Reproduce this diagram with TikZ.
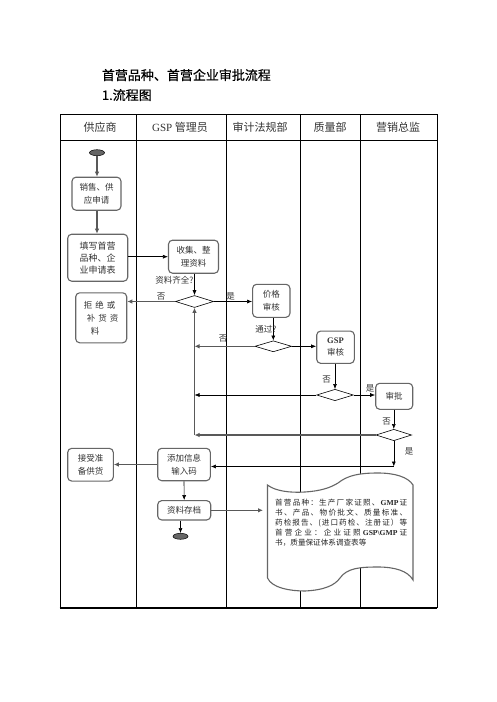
\documentclass[tikz,border=0pt]{standalone}
\usepackage{fontspec}
\setmainfont{Liberation Serif}
\newfontfamily\cjk{Noto Sans CJK SC}
\newfontfamily\cjktitle[FakeBold=0.5]{Noto Sans CJK SC}
\usetikzlibrary{shapes.geometric,arrows.meta}
\setlength{\parindent}{0pt}
\makeatletter
\newcommand{\spreadline}[1]{\makebox[132pt][s]{\@tfor\sp@c:=#1\do{\sp@c\hfil}\unskip}}
\makeatother
\begin{document}
\begin{tikzpicture}[x=1pt,y=-1pt,
  box/.style={draw=black!60, line width=1.1pt, rounded corners=4pt, fill=white, inner sep=0pt, align=center, text=black!80, font=\cjk\fontsize{8.5}{12.5}\selectfont},
  dia/.style={draw=black, line width=0.6pt, shape=diamond, inner sep=0pt, fill=white},
  term/.style={draw=black, line width=0.5pt, fill=black!60, ellipse, inner sep=0pt, minimum width=15pt, minimum height=6pt},
  barr/.style={draw=black, line width=0.6pt, -{Latex[length=5pt,width=4pt]}},
  garr/.style={draw=black!65, line width=1.3pt, -{Latex[length=5pt,width=4.5pt]}},
  lbl/.style={font=\cjk\fontsize{8.5}{10}\selectfont, text=black!80, inner sep=0pt},
  hdr/.style={font=\cjk\fontsize{11}{13}\selectfont, text=black!80, inner sep=0pt},
  ttl/.style={font=\cjktitle\fontsize{13}{15}\selectfont, text=black, inner sep=0pt, anchor=west},
  tbl/.style={draw=black, line width=0.8pt}
]
\useasboundingbox (0,0) rectangle (496,702);
\fill[white] (0,0) rectangle (496,702);

% title
\node[ttl] (title) at (101.7,75) {首营品种、首营企业审批流程};
\node[ttl] (sub) at (101.7,95) {1.流程图};

% table
\draw[tbl] (60,608) -- (60,114) -- (437,114) -- (437,608);
\draw[tbl] (60,140) -- (437,140);
\foreach \xx in {136,226,300,360} \draw[tbl] (\xx,114) -- (\xx,608);
\draw[line width=1.8pt] (59.6,608) -- (437.4,608);

\node[hdr] (h1) at (100,127) {供应商};
\node[hdr] (h2) at (180,127) {{\rmfamily GSP} 管理员};
\node[hdr] (h3) at (260,127) {审计法规部};
\node[hdr] (h4) at (330,127) {质量部};
\node[hdr] (h5) at (398,127) {营销总监};

% document shape
\draw[draw=black!60, line width=1.1pt, fill=white] (267.5,485) .. controls (275,491) and (290,493) .. (305,492) .. controls (320,491) and (330,488) .. (338,483) .. controls (348,475) and (360,473) .. (378,473) .. controls (395,473) and (408,477) .. (413,485) -- (413,580) .. controls (408,571) and (395,567) .. (378,567) .. controls (360,567) and (347,568) .. (340,578) .. controls (335,585) and (325,590) .. (305,591) .. controls (290,591) and (272,588) .. (267.5,578) -- cycle;
\node[anchor=north west, align=left, inner sep=0pt, text=black!85, font=\cjk\fontsize{7.6}{10.2}\selectfont] (doctxt) at (275,498.5) {\spreadline{首营品种：生产厂家证照、{{\rmfamily\bfseries GMP}}证}\\\spreadline{书、产品、物价批文、质量标准、}\\\spreadline{药检报告、(进口药检、注册证）等}\\\spreadline{首营企业：企业证照{{\rmfamily\bfseries GSP\textbackslash GMP}}证}\\书，质量保证体系调查表等};
\coordinate (docL) at (263,510.3);

% nodes
\node[term] (start) at (97,152.7) {};
\node[box, minimum width=49pt, minimum height=33pt] (sale) at (96.5,193.7) {销售、供\\应申请};
\node[box, minimum width=60pt, minimum height=47pt, font=\cjk\fontsize{9}{12}\selectfont] (fill) at (97.7,257.7) {填写首营\\品种、企\\业申请表};
\node[box, minimum width=50pt, minimum height=33pt] (collect) at (193.5,256.7) {收集、整\\理资料};
\node[dia, minimum width=38pt, minimum height=12pt] (d1) at (194.5,301.5) {};
\node[box, minimum width=51pt, minimum height=50pt, align=left, font=\cjk\fontsize{8.5}{13}\selectfont] (reject) at (101.2,317.8) {拒\hspace{3pt}绝\hspace{3pt}或\\\hspace*{3pt}补\hspace{3pt}货\hspace{3pt}资\\\hspace*{7pt}料};
\node[box, minimum width=37.3pt, minimum height=33pt, font=\cjk\fontsize{8.5}{13.3}\selectfont] (price) at (271.3,300.8) {价格\\审核};
\node[dia, minimum width=36.7pt, minimum height=11pt] (d2) at (273.3,346.3) {};
\node[box, minimum width=37.6pt, minimum height=32.3pt] (gsp) at (335.5,347.2) {{\rmfamily\bfseries GSP}\\审核};
\node[dia, minimum width=36.7pt, minimum height=11.4pt] (d3) at (335,395) {};
\node[box, minimum width=37pt, minimum height=26pt] (appr) at (394.2,396.3) {审批};
\node[dia, minimum width=35.7pt, minimum height=11.4pt] (d4) at (393.8,435) {};
\coordinate (c1) at (393.8,466.5);
\node[box, minimum width=45.6pt, minimum height=32.7pt] (accept) at (90.5,464.7) {接受准\\备供货};
\node[box, minimum width=52.6pt, minimum height=32.4pt] (add) at (184,464.5) {添加信息\\输入码};
\node[box, minimum width=53pt, minimum height=19.3pt] (archive) at (184.2,510.3) {资料存档};
\node[term] (end) at (180.5,536.3) {};

% connectors
\draw[garr] (start) -- (sale.north -| start);
\draw[garr] (sale.south -| start) -- (fill.north -| start);
\draw[barr] (fill.east |- collect) -- (collect.west);
\draw[barr] (collect.south -| d1) -- (d1.north);
\draw[garr] (d1.west) -- (reject.east |- d1);
\draw[barr] (d1.east) -- (price.west |- d1);
\draw[barr] (price.south -| d2) -- (d2.north);
\draw[garr] (d2.west) -- (d2.west -| d1.south);
\draw[barr] (d2.east) -- (gsp.west |- d2);
\draw[barr] (gsp.south -| d3) -- (d3.north);
\draw[barr] (d3.west) -- (d3.west -| d1.south);
\draw[barr] (d3.east) -- (appr.west |- d3);
\draw[barr] (appr.south -| d4) -- (d4.north);
\draw[garr] (d4.west) -- (d4.west -| d1.south);
\draw[garr] (d4.west -| d1.south) -- (d1.south);
\draw[barr] (d4.south) -- (c1);
\draw[barr] (c1) -- (add.east |- c1);
\draw[garr] (add.west) -- (accept.east |- add);
\draw[barr] (add.south) -- (archive.north);
\draw[barr] (archive.south -| end) -- (end.north);
\draw[garr] (archive.east) -- (docL);

% labels
\node[lbl] (q1) at (174.5,280.7) {资料齐全?};
\node[lbl] (no1) at (161,296.7) {否};
\node[lbl] (yes1) at (230.7,296) {是};
\node[lbl] (q2) at (266,329) {通过?};
\node[lbl] (no2) at (223,339) {否};
\node[lbl] (no3) at (326.7,380) {否};
\node[lbl] (yes3) at (370,388) {是};
\node[lbl] (no4) at (386.7,421.7) {否};
\node[lbl] (yes4) at (409,451.7) {是};
\end{tikzpicture}
\end{document}
